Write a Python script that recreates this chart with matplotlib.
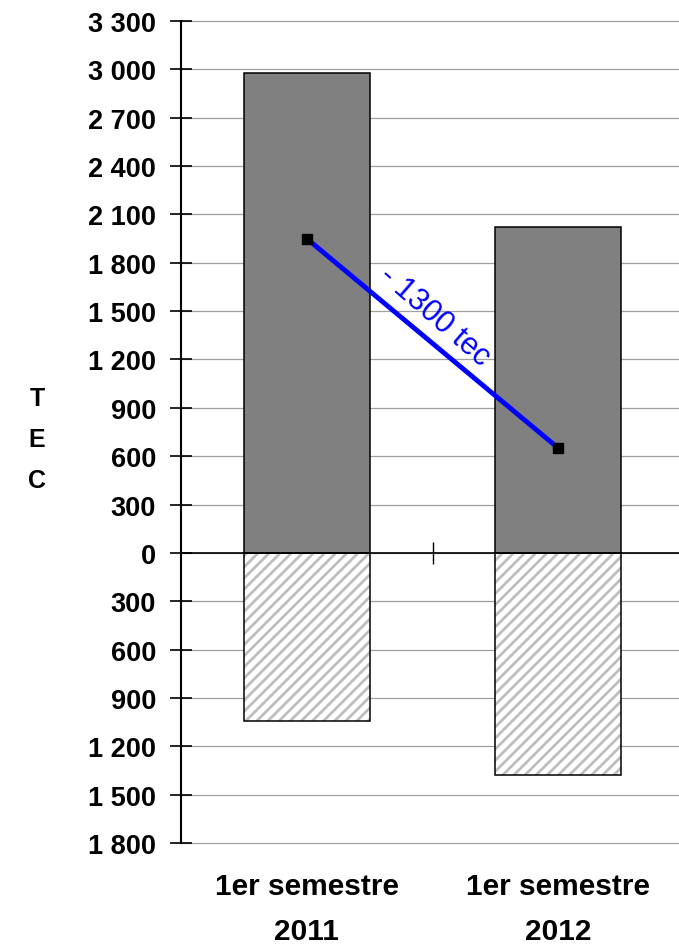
import matplotlib.pyplot as plt
from matplotlib.ticker import FuncFormatter

plt.rcParams['font.family'] = ['Liberation Sans', 'DejaVu Sans']
plt.rcParams['hatch.linewidth'] = 2.0

# data (TEC)
categories = ['1er semestre\n2011', '1er semestre\n2012']
pos_values = [2980, 2020]
neg_values = [-1040, -1380]
line_values = [1950, 650]
diff_label = '- 1300 tec'

x = range(len(categories))

fig = plt.figure(figsize=(6.79, 9.45), dpi=100)
ax = fig.add_axes([181/679, 1 - 844/945, 503/679, 822/945])

# hatched negative bars (hatch only, then outline)
ax.bar(x, neg_values, width=0.5, color='white', edgecolor='#bebebe',
       hatch='///', linewidth=0, zorder=2)
ax.bar(x, neg_values, width=0.5, fill=False, edgecolor='black',
       linewidth=1.1, zorder=3)
ax.bar(x, pos_values, width=0.5, color='#808080', edgecolor='black',
       linewidth=1.1, zorder=3)

ax.plot(x, line_values, color='#0000ff', lw=3.5, marker='s', ms=7,
        mfc='black', mec='black', zorder=4)
ax.text(0.51, 1470, diff_label, color='#0000ff', fontsize=22,
        rotation=-41, ha='center', va='center', zorder=5)

ax.set_xlim(-0.5, 1.5)
ax.set_ylim(-1800, 3300)
ax.set_yticks(range(-1800, 3301, 300))
ax.yaxis.set_major_formatter(
    FuncFormatter(lambda v, p: f'{abs(int(v)):,}'.replace(',', ' ')))
for lab in ax.get_yticklabels():
    lab.set_fontweight('bold')
ax.tick_params(axis='y', direction='inout', length=16, width=1.2,
               labelsize=19.5, pad=10)
ax.grid(axis='y', color='#a0a0a0', lw=0.9, zorder=1)
ax.set_axisbelow(True)
for gl in ax.get_ygridlines():
    gl.set_clip_on(False)

# x axis through zero with a single mid tick
ax.spines['bottom'].set_position(('data', 0))
ax.spines['bottom'].set_linewidth(1.2)
ax.spines['bottom'].set_zorder(4)
ax.set_xticks([0.5])
ax.set_xticklabels([''])
ax.tick_params(axis='x', direction='inout', length=16, width=1.0)
ax.spines['left'].set_linewidth(1.5)
ax.spines['top'].set_visible(False)
ax.spines['right'].set_visible(False)

for i, c in enumerate(categories):
    ax.text(i, -1980, c, ha='center', va='top', fontsize=21.5,
            fontweight='bold', linespacing=1.75)

fig.text(37/679, 1 - 440/945, 'T\nE\nC', ha='center', va='center',
         fontsize=18, fontweight='bold', linespacing=1.9)

fig.savefig('out.png', dpi=100)
